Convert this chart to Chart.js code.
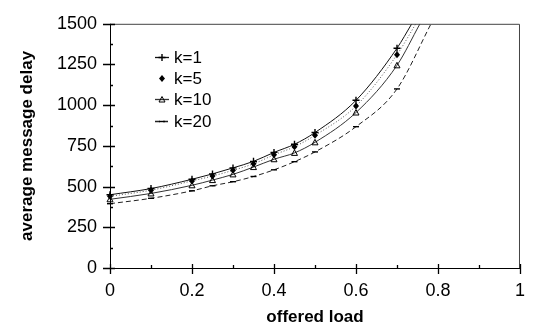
<!DOCTYPE html>
<html>
<head>
<meta charset="utf-8">
<script src="https://cdn.jsdelivr.net/npm/chart.js@4.4.0/dist/chart.umd.min.js"></script>
<style>
  html, body { margin: 0; padding: 0; background: #fff; }
  #wrap { width: 537px; height: 331px; }
</style>
</head>
<body>
<div id="wrap"><canvas id="delay-chart" width="537" height="331"></canvas></div>
<script>
"use strict";

// data
var loads = [0, 0.1, 0.2, 0.25, 0.3, 0.35, 0.4, 0.45, 0.5, 0.6, 0.7];
var delayK1 = [450, 488, 545, 578, 615, 655, 710, 760, 832, 1030, 1350];
var delayK5 = [440, 478, 535, 565, 600, 640, 695, 745, 815, 995, 1310];
var delayK10 = [422, 458, 508, 540, 575, 620, 668, 707, 772, 955, 1245];
var delayK20 = [395, 428, 474, 505, 530, 562, 603, 653, 713, 868, 1100];
// where each curve leaves the top of the plot
var exitLoads = [0.736, 0.746, 0.756, 0.783];
var seriesNames = ["k=1", "k=5", "k=10", "k=20"];
var xTicks = [0, 0.2, 0.4, 0.6, 0.8, 1];
var yTicks = [0, 250, 500, 750, 1000, 1250, 1500];

var yMax = yTicks[yTicks.length - 1];

function toPoints(vals, exitX) {
    var pts = loads.map(function (x, i) { return {x: x, y: vals[i]}; });
    pts.push({x: exitX, y: yMax});
    return pts;
}

var styles = [
    {color: "#111", dash: [], marker: "plus"},
    {color: "#555", dash: [1, 2], marker: "diamond"},
    {color: "#333", dash: [], marker: "triangle"},
    {color: "#222", dash: [5, 3], marker: "dash"}
];

function drawMarker(ctx, kind, x, y) {
    ctx.save();
    ctx.setLineDash([]);
    ctx.strokeStyle = "#000";
    ctx.fillStyle = "#000";
    ctx.lineWidth = 1.4;
    ctx.beginPath();
    if (kind === "plus") {
        ctx.moveTo(x - 3.5, y); ctx.lineTo(x + 3.5, y);
        ctx.moveTo(x, y - 3.5); ctx.lineTo(x, y + 3.5);
        ctx.stroke();
    } else if (kind === "diamond") {
        ctx.moveTo(x, y - 3.5); ctx.lineTo(x + 3, y);
        ctx.lineTo(x, y + 3.5); ctx.lineTo(x - 3, y);
        ctx.closePath(); ctx.fill();
    } else if (kind === "triangle") {
        ctx.lineWidth = 1;
        ctx.moveTo(x, y - 3); ctx.lineTo(x + 3, y + 2.5); ctx.lineTo(x - 3, y + 2.5);
        ctx.closePath(); ctx.stroke();
    } else {
        ctx.moveTo(x - 3, y); ctx.lineTo(x + 3, y);
        ctx.stroke();
    }
    ctx.restore();
}

var allDelays = [delayK1, delayK5, delayK10, delayK20];
var datasets = allDelays.map(function (vals, i) {
    return {
        label: seriesNames[i],
        data: toPoints(vals, exitLoads[i]),
        borderColor: styles[i].color,
        borderWidth: 1,
        borderDash: styles[i].dash,
        pointRadius: 0,
        cubicInterpolationMode: "monotone",
        fill: false
    };
});

// frame, crossing ticks, minor ticks, markers and the inner legend
var extras = {
    id: "extras",
    afterDatasetsDraw: function (chart) {
        var ctx = chart.ctx;
        var a = chart.chartArea;
        var xs = chart.scales.x, ys = chart.scales.y;

        // markers at the data points only
        chart.data.datasets.forEach(function (ds, i) {
            for (var j = 0; j < loads.length; j++) {
                drawMarker(ctx, styles[i].marker, xs.getPixelForValue(loads[j]), ys.getPixelForValue(ds.data[j].y));
            }
        });

        ctx.save();
        ctx.strokeStyle = "#000";
        ctx.lineWidth = 1;
        ctx.beginPath();
        ctx.moveTo(a.left + 0.5, a.top);
        ctx.lineTo(a.left + 0.5, a.bottom + 0.5);
        ctx.lineTo(a.right, a.bottom + 0.5);
        ctx.stroke();
        ctx.strokeStyle = "#444";
        ctx.beginPath();
        ctx.moveTo(a.left, a.top + 0.5);
        ctx.lineTo(a.right - 0.5, a.top + 0.5);
        ctx.lineTo(a.right - 0.5, a.bottom);
        ctx.stroke();

        ctx.strokeStyle = "#000";
        ctx.lineWidth = 1.3;
        ctx.beginPath();
        xTicks.forEach(function (v) {
            var px = Math.round(xs.getPixelForValue(v)) + 0.5;
            ctx.moveTo(px, a.bottom - 4); ctx.lineTo(px, a.bottom + 6);
        });
        for (var m = 0.1; m < 1; m += 0.2) {
            var mx = Math.round(xs.getPixelForValue(m)) + 0.5;
            ctx.moveTo(mx, a.bottom - 3); ctx.lineTo(mx, a.bottom);
        }
        yTicks.forEach(function (v) {
            var py = Math.round(ys.getPixelForValue(v)) + 0.5;
            ctx.moveTo(a.left - 7, py); ctx.lineTo(a.left + 5, py);
        });
        for (var n = 125; n < yMax; n += 250) {
            var my = Math.round(ys.getPixelForValue(n)) + 0.5;
            ctx.moveTo(a.left, my); ctx.lineTo(a.left + 3, my);
        }
        ctx.stroke();

        // legend inside the plot
        ctx.font = "17px 'Liberation Sans', Arial, sans-serif";
        ctx.textBaseline = "middle";
        ctx.fillStyle = "#000";
        var rows = [57, 78, 99, 121];
        seriesNames.forEach(function (name, i) {
            var y = rows[i];
            if (i !== 1) {
                ctx.save();
                ctx.strokeStyle = styles[i].color;
                ctx.setLineDash(styles[i].dash);
                ctx.beginPath();
                ctx.moveTo(155, y + 0.5); ctx.lineTo(169, y + 0.5);
                ctx.stroke();
                ctx.restore();
            }
            drawMarker(ctx, styles[i].marker, 162, y + 0.5);
            ctx.fillText(name, 174, y + 1);
        });
        ctx.restore();
    }
};

var tickFont = {family: "'Liberation Sans', Arial, sans-serif", size: 18};
var titleFont = {family: "'Liberation Sans', Arial, sans-serif", size: 17, weight: "bold"};
var plainLabel = function (v) { return String(v); };

var ctx1 = document.getElementById("delay-chart").getContext("2d");
var delayChart = new Chart(ctx1, {
    type: "line",
    data: {datasets: datasets},
    options: {
        responsive: false,
        animation: false,
        layout: {padding: {top: 16, right: 13, left: 0, bottom: 0}},
        plugins: {legend: {display: false}, tooltip: {enabled: false}},
        scales: {
            x: {
                type: "linear",
                min: 0,
                max: 1,
                afterBuildTicks: function (s) { s.ticks = xTicks.map(function (v) { return {value: v}; }); },
                afterFit: function (s) { s.height = 63; },
                grid: {display: false, drawTicks: false},
                border: {display: false},
                ticks: {color: "#000", font: tickFont, padding: 12, maxRotation: 0, callback: plainLabel},
                title: {display: true, text: "offered load", color: "#000", font: titleFont, padding: {top: 0, bottom: 3}}
            },
            y: {
                type: "linear",
                min: 0,
                max: yMax,
                afterBuildTicks: function (s) { s.ticks = yTicks.map(function (v) { return {value: v}; }); },
                afterFit: function (s) { s.width = 110; },
                grid: {display: false, drawTicks: false},
                border: {display: false},
                ticks: {color: "#000", font: tickFont, padding: 13, callback: plainLabel},
                title: {display: true, text: "average message delay", color: "#000", font: titleFont, padding: {top: 17, bottom: 0}}
            }
        }
    },
    plugins: [extras]
});
</script>
</body>
</html>
